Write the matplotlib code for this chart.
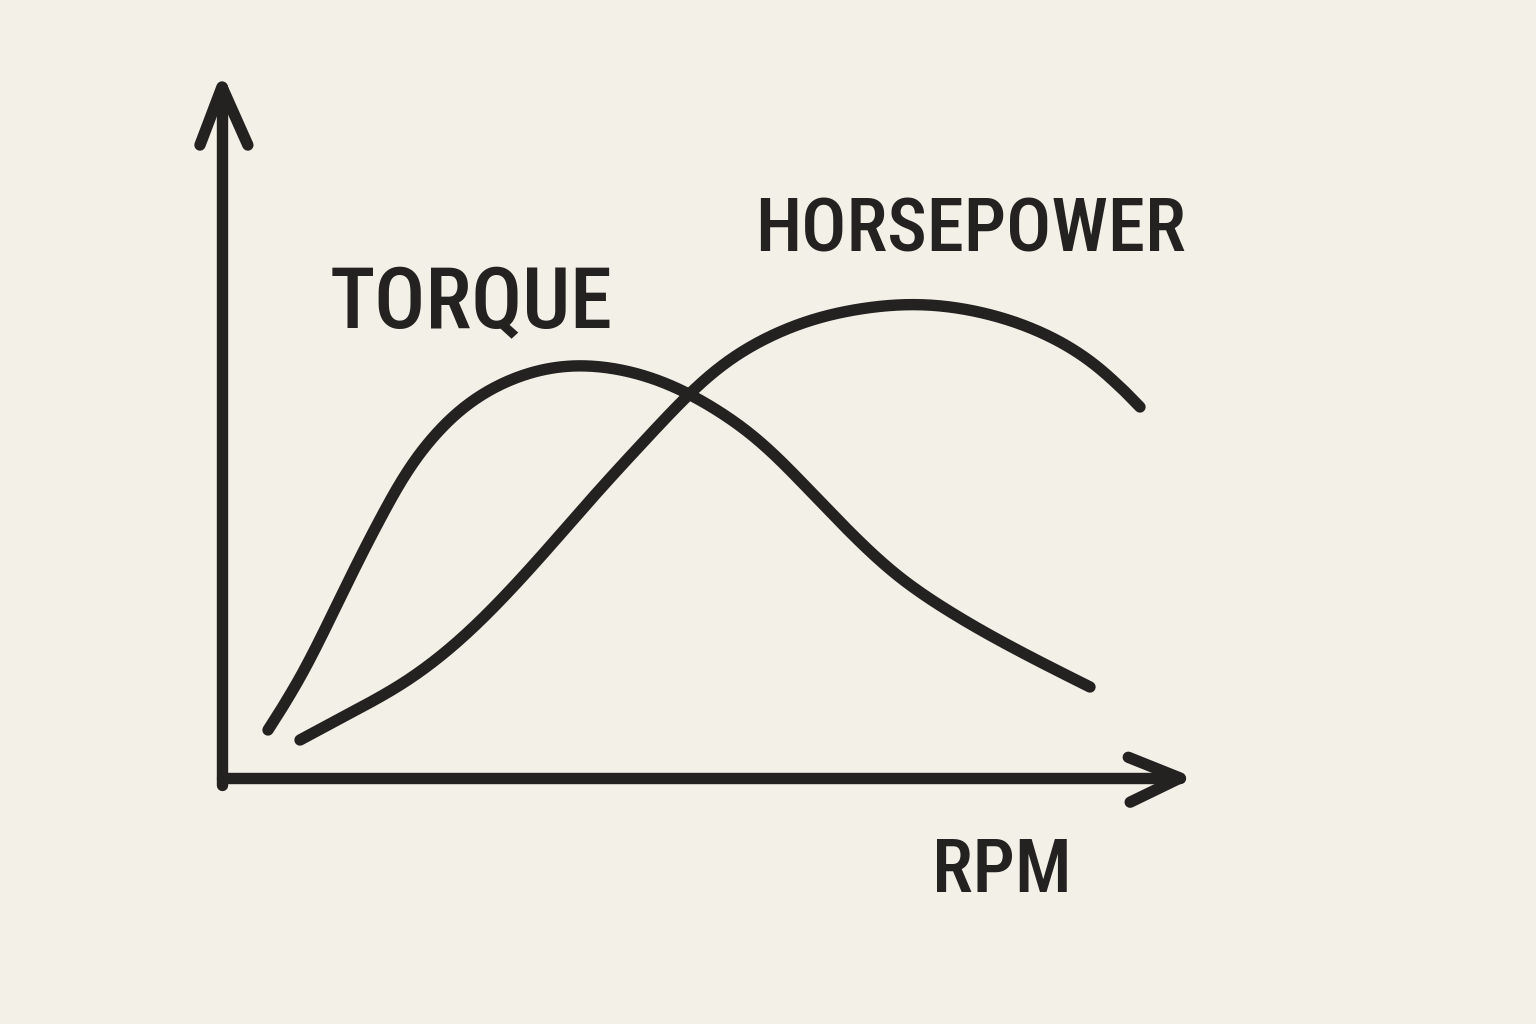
import numpy as np
import matplotlib
matplotlib.use("Agg")
import matplotlib.pyplot as plt
from matplotlib import font_manager as fm

# ---- data (arbitrary units: x = RPM scale, y = output) ----
torque_rpm = [0.46, 0.78, 1.11, 1.38, 1.68, 1.91, 2.25, 2.58, 3.08, 3.58, 4.08, 4.58, 5.28, 5.78, 6.28, 6.78, 7.31, 7.58, 8.08, 8.68]
torque_val = [0.48, 0.98, 1.65, 2.21, 2.78, 3.18, 3.58, 3.85, 4.08, 4.15, 4.08, 3.91, 3.48, 2.98, 2.45, 1.98, 1.64, 1.48, 1.21, 0.91]
hp_rpm = [0.78, 1.28, 1.78, 2.28, 2.75, 3.25, 3.75, 4.25, 4.68, 5.08, 5.58, 6.08, 6.75, 7.25, 7.75, 8.25, 8.75, 9.18]
hp_val = [0.38, 0.65, 0.91, 1.28, 1.73, 2.28, 2.86, 3.40, 3.86, 4.21, 4.48, 4.65, 4.75, 4.73, 4.63, 4.45, 4.15, 3.71]
labels = {"torque": "TORQUE", "hp": "HORSEPOWER", "x": "RPM"}

INK = "#232220"
BG = "#f3f0e8"

names = {f.name for f in fm.fontManager.ttflist}
cands = ["Roboto Condensed", "Open Sans Condensed", "DejaVu Sans Condensed", "Liberation Sans Narrow", "Roboto"]
FONT = [c for c in cands if c in names][:1] + ["DejaVu Sans"]


def smooth(xs, ys, iters=4, n=600, win=0.35):
    """Rendering only: Chaikin corner cutting, arc-length resampling and a
    light moving average (window shrinks at the ends so end points stay)."""
    p = np.column_stack([xs, ys]).astype(float)
    for _ in range(iters):
        q = 0.75 * p[:-1] + 0.25 * p[1:]
        r = 0.25 * p[:-1] + 0.75 * p[1:]
        mid = np.empty((2 * len(q), 2))
        mid[0::2] = q
        mid[1::2] = r
        p = np.vstack([p[:1], mid, p[-1:]])
    seg = np.hypot(*np.diff(p, axis=0).T)
    s = np.concatenate([[0], np.cumsum(seg)])
    su = np.linspace(0, s[-1], n)
    px = np.interp(su, s, p[:, 0])
    py = np.interp(su, s, p[:, 1])
    h = int(win / (s[-1] / n))
    ox, oy = px.copy(), py.copy()
    for i in range(n):
        k = min(h, i, n - 1 - i)
        ox[i] = px[i - k:i + k + 1].mean()
        oy[i] = py[i - k:i + k + 1].mean()
    return ox, oy


fig = plt.figure(figsize=(15.36, 10.24), dpi=100, facecolor=BG)
ax = fig.add_axes([222 / 1536, (1024 - 778) / 1024, (1180 - 222) / 1536, (778 - 87) / 1024])
ax.set_facecolor(BG)
ax.set_xlim(0, 9.58)
ax.set_ylim(0, 6.91)
ax.axis("off")

lw = 8.2
T = ax.transAxes
kw = dict(color=INK, lw=lw, solid_capstyle="round", solid_joinstyle="round", transform=T, clip_on=False)
ax.plot([0, 0], [-0.01, 1.0], **kw)
ax.plot([0.0, 1.0], [0, 0], **kw)
ax.plot([-0.023, 0, 0.027], [0.916, 1.0, 0.916], **kw)
ax.plot([0.946, 1.0, 0.948], [0.03, 0, -0.035], **kw)

tx, ty = smooth(torque_rpm, torque_val)
hx, hy = smooth(hp_rpm, hp_val)
ax.plot(tx, ty, color=INK, lw=lw, solid_capstyle="round", clip_on=False)
ax.plot(hx, hy, color=INK, lw=lw, solid_capstyle="round", clip_on=False)

tkw = dict(family=FONT, color=INK, ha="left", va="baseline", weight="medium", clip_on=False)
ax.text(1.08, 4.50, labels["torque"], fontsize=61, **tkw)
ax.text(5.33, 5.26, labels["hp"], fontsize=54, **tkw)
ax.text(7.10, -1.14, labels["x"], fontsize=54, **tkw)

fig.savefig("out.png", dpi=100, facecolor=BG)
